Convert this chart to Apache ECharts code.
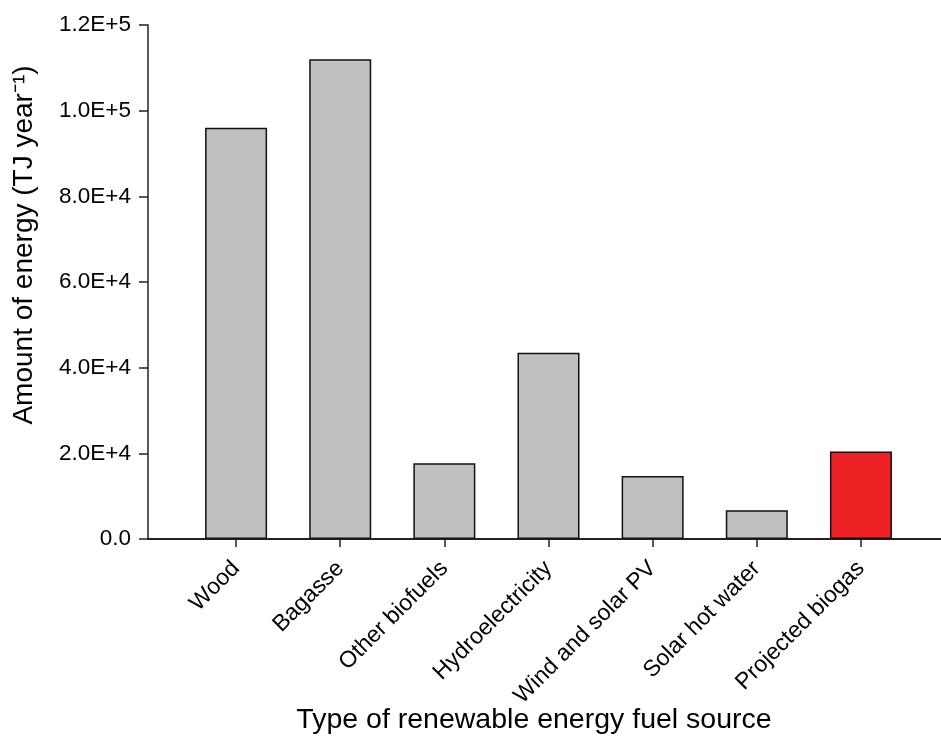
<!DOCTYPE html>
<html>
<head>
<meta charset="utf-8">
<script src="https://cdn.jsdelivr.net/npm/echarts@6/dist/echarts.min.js"></script>
<style>
    html, body { margin: 0; padding: 0; background: #fff; }
    #chart { width: 941px; height: 740px; }
</style>
</head>
<body>
<div id="chart"></div>
<script>
// data
const categories = ["Wood", "Bagasse", "Other biofuels", "Hydroelectricity", "Wind and solar PV", "Solar hot water", "Projected biogas"];
const energyValues = [96000, 112000, 17700, 43500, 14700, 6700, 20400];
const barColors = ["#c0c0c0", "#c0c0c0", "#c0c0c0", "#c0c0c0", "#c0c0c0", "#c0c0c0", "#ee2224"];
const yTicks = [0, 20000, 40000, 60000, 80000, 100000, 120000];

const font = "Liberation Sans, Arial, sans-serif";
const chart = echarts.init(document.getElementById("chart"));

function fmtTick(v) {
    if (v === 0) return "0.0";
    return v.toExponential(1).toUpperCase();
}

let options = {
    animation: false,
    textStyle: { fontFamily: font, color: "#000" },
    grid: [
        { left: 184, right: 28, top: 25, bottom: 201, containLabel: false, outerBoundsMode: "none" },
        // only used to draw the long x axis line under the plot
        { left: 148, right: 0, top: 25, bottom: 201, containLabel: false, outerBoundsMode: "none" }
    ],
    graphic: [
        {
            type: "text",
            x: 24,
            y: 245,
            rotation: Math.PI / 2,
            style: {
                text: "Amount of energy (TJ year⁻¹)",
                font: "28px " + font,
                fill: "#000",
                textAlign: "center",
                textVerticalAlign: "middle"
            }
        },
        {
            type: "text",
            x: 534,
            y: 720,
            style: {
                text: "Type of renewable energy fuel source",
                font: "28.5px " + font,
                fill: "#000",
                textAlign: "center",
                textVerticalAlign: "middle"
            }
        }
    ],
    xAxis: [
        {
            type: "category",
            gridIndex: 0,
            data: categories,
            axisLine: { show: false },
            axisTick: { show: true, alignWithLabel: true, length: 8, lineStyle: { color: "#222", width: 1.5 } },
            axisLabel: {
                rotate: 45,
                margin: 26,
                fontSize: 23,
                fontFamily: font,
                color: "#000",
                interval: 0
            }
        },
        {
            type: "category",
            gridIndex: 1,
            data: [""],
            axisLine: { show: true, lineStyle: { color: "#222", width: 2 } },
            axisTick: { show: false },
            axisLabel: { show: false }
        }
    ],
    yAxis: [
        {
            type: "value",
            gridIndex: 0,
            min: 0,
            max: 120000,
            interval: 20000,
            offset: 36,
            axisLine: { show: true, lineStyle: { color: "#222", width: 1.5 } },
            axisTick: { show: true, length: 9, lineStyle: { color: "#222", width: 1.5 } },
            axisLabel: {
                fontSize: 22.5,
                fontFamily: font,
                color: "#000",
                margin: 17,
                formatter: function(v) {
                    return yTicks.indexOf(v) >= 0 ? fmtTick(v) : "";
                }
            },
            splitLine: { show: false }
        },
        {
            type: "value",
            gridIndex: 1,
            min: 0,
            max: 120000,
            show: false
        }
    ],
    series: [{
        type: "bar",
        xAxisIndex: 0,
        yAxisIndex: 0,
        barWidth: 62,
        data: energyValues.map((v, i) => ({
            value: v,
            itemStyle: { color: barColors[i] }
        })),
        itemStyle: { borderColor: "#111", borderWidth: 1.5 }
    }]
};
chart.setOption(options);
</script>
</body>
</html>
